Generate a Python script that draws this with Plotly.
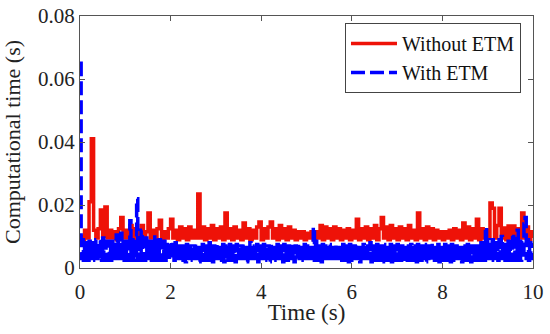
import numpy as np
import plotly.graph_objects as go

# Computational time (s) without ETM, sampled every 0.05 s from 0 to 10 s
without_etm = [
    0.0100, 0.0090, 0.0120, 0.0095, 0.0210, 0.0410, 0.0120, 0.0095, 0.0125, 0.0184,
    0.0100, 0.0194, 0.0095, 0.0120, 0.0095, 0.0115, 0.0090, 0.0125, 0.0160, 0.0095,
    0.0120, 0.0095, 0.0135, 0.0090, 0.0125, 0.0095, 0.0120, 0.0135, 0.0090, 0.0115,
    0.0175, 0.0095, 0.0120, 0.0095, 0.0125, 0.0152, 0.0090, 0.0115, 0.0095, 0.0125,
    0.0155, 0.0095, 0.0120, 0.0090, 0.0130, 0.0095, 0.0125, 0.0090, 0.0130, 0.0095,
    0.0120, 0.0095, 0.0235, 0.0095, 0.0130, 0.0090, 0.0125, 0.0095, 0.0135, 0.0090,
    0.0125, 0.0095, 0.0130, 0.0090, 0.0175, 0.0095, 0.0125, 0.0090, 0.0130, 0.0095,
    0.0120, 0.0090, 0.0143, 0.0095, 0.0125, 0.0090, 0.0120, 0.0095, 0.0130, 0.0146,
    0.0090, 0.0125, 0.0095, 0.0130, 0.0146, 0.0095, 0.0125, 0.0090, 0.0135, 0.0095,
    0.0125, 0.0090, 0.0130, 0.0095, 0.0120, 0.0090, 0.0115, 0.0095, 0.0115, 0.0090,
    0.0110, 0.0095, 0.0115, 0.0090, 0.0115, 0.0095, 0.0135, 0.0090, 0.0130, 0.0095,
    0.0125, 0.0090, 0.0130, 0.0095, 0.0125, 0.0090, 0.0120, 0.0095, 0.0125, 0.0090,
    0.0120, 0.0095, 0.0155, 0.0090, 0.0125, 0.0095, 0.0130, 0.0090, 0.0125, 0.0095,
    0.0135, 0.0090, 0.0125, 0.0160, 0.0095, 0.0130, 0.0090, 0.0135, 0.0095, 0.0125,
    0.0090, 0.0130, 0.0095, 0.0125, 0.0090, 0.0135, 0.0095, 0.0120, 0.0090, 0.0175,
    0.0095, 0.0125, 0.0090, 0.0130, 0.0095, 0.0125, 0.0090, 0.0120, 0.0095, 0.0115,
    0.0090, 0.0115, 0.0095, 0.0120, 0.0090, 0.0125, 0.0095, 0.0120, 0.0090, 0.0143,
    0.0095, 0.0130, 0.0090, 0.0125, 0.0095, 0.0155, 0.0090, 0.0125, 0.0095, 0.0120,
    0.0095, 0.0206, 0.0190, 0.0095, 0.0135, 0.0190, 0.0095, 0.0127, 0.0090, 0.0133,
    0.0095, 0.0133, 0.0090, 0.0125, 0.0095, 0.0175, 0.0095, 0.0130, 0.0090, 0.0115,
    0.0095,
]

# Computational time (s) with ETM, sampled every 0.025 s from 0 to 10 s
with_etm = [
    0.0650, 0.0030, 0.0090, 0.0025, 0.0080, 0.0030, 0.0075, 0.0025, 0.0085, 0.0030, 0.0080, 0.0025, 0.0075, 0.0030, 0.0090, 0.0025, 0.0080, 0.0030, 0.0095, 0.0025,
    0.0095, 0.0030, 0.0080, 0.0025, 0.0085, 0.0030, 0.0080, 0.0025, 0.0085, 0.0030, 0.0075, 0.0025, 0.0105, 0.0030, 0.0090, 0.0025, 0.0110, 0.0030, 0.0080, 0.0025,
    0.0085, 0.0030, 0.0080, 0.0025, 0.0150, 0.0030, 0.0085, 0.0025, 0.0090, 0.0030, 0.0220, 0.0025, 0.0080, 0.0030, 0.0120, 0.0025, 0.0085, 0.0030, 0.0095, 0.0025,
    0.0080, 0.0030, 0.0085, 0.0025, 0.0080, 0.0030, 0.0105, 0.0025, 0.0085, 0.0030, 0.0090, 0.0025, 0.0080, 0.0030, 0.0085, 0.0025, 0.0075, 0.0030, 0.0080, 0.0025,
    0.0085, 0.0030, 0.0075, 0.0025, 0.0080, 0.0030, 0.0070, 0.0025, 0.0075, 0.0030, 0.0070, 0.0025, 0.0065, 0.0020, 0.0075, 0.0030, 0.0070, 0.0025, 0.0065, 0.0030,
    0.0070, 0.0025, 0.0075, 0.0030, 0.0065, 0.0020, 0.0070, 0.0030, 0.0075, 0.0025, 0.0065, 0.0030, 0.0070, 0.0025, 0.0080, 0.0030, 0.0065, 0.0020, 0.0070, 0.0030,
    0.0075, 0.0025, 0.0065, 0.0030, 0.0070, 0.0025, 0.0075, 0.0020, 0.0065, 0.0030, 0.0070, 0.0025, 0.0075, 0.0030, 0.0065, 0.0025, 0.0070, 0.0020, 0.0075, 0.0030,
    0.0065, 0.0030, 0.0070, 0.0025, 0.0075, 0.0030, 0.0065, 0.0020, 0.0070, 0.0025, 0.0080, 0.0030, 0.0065, 0.0025, 0.0070, 0.0030, 0.0075, 0.0020, 0.0065, 0.0025,
    0.0070, 0.0030, 0.0075, 0.0025, 0.0065, 0.0030, 0.0070, 0.0020, 0.0075, 0.0025, 0.0065, 0.0030, 0.0070, 0.0025, 0.0075, 0.0030, 0.0065, 0.0025, 0.0070, 0.0020,
    0.0075, 0.0030, 0.0065, 0.0025, 0.0070, 0.0030, 0.0075, 0.0025, 0.0065, 0.0020, 0.0070, 0.0030, 0.0080, 0.0025, 0.0065, 0.0030, 0.0070, 0.0025, 0.0075, 0.0030,
    0.0070, 0.0025, 0.0075, 0.0030, 0.0065, 0.0025, 0.0130, 0.0030, 0.0085, 0.0025, 0.0070, 0.0030, 0.0065, 0.0020, 0.0075, 0.0030, 0.0070, 0.0025, 0.0065, 0.0030,
    0.0075, 0.0025, 0.0065, 0.0030, 0.0070, 0.0020, 0.0075, 0.0030, 0.0065, 0.0025, 0.0070, 0.0030, 0.0075, 0.0025, 0.0065, 0.0030, 0.0070, 0.0020, 0.0075, 0.0025,
    0.0065, 0.0030, 0.0070, 0.0025, 0.0075, 0.0030, 0.0065, 0.0020, 0.0070, 0.0025, 0.0075, 0.0030, 0.0065, 0.0025, 0.0070, 0.0030, 0.0080, 0.0020, 0.0065, 0.0030,
    0.0070, 0.0025, 0.0075, 0.0030, 0.0065, 0.0025, 0.0070, 0.0020, 0.0075, 0.0030, 0.0065, 0.0025, 0.0070, 0.0030, 0.0075, 0.0020, 0.0065, 0.0030, 0.0070, 0.0025,
    0.0075, 0.0030, 0.0065, 0.0025, 0.0070, 0.0030, 0.0075, 0.0020, 0.0065, 0.0025, 0.0070, 0.0030, 0.0075, 0.0025, 0.0065, 0.0030, 0.0070, 0.0020, 0.0075, 0.0030,
    0.0065, 0.0025, 0.0070, 0.0030, 0.0075, 0.0020, 0.0065, 0.0030, 0.0070, 0.0025, 0.0080, 0.0030, 0.0065, 0.0025, 0.0070, 0.0030, 0.0075, 0.0020, 0.0065, 0.0025,
    0.0070, 0.0030, 0.0075, 0.0025, 0.0065, 0.0030, 0.0070, 0.0020, 0.0075, 0.0025, 0.0065, 0.0030, 0.0070, 0.0025, 0.0075, 0.0030, 0.0065, 0.0020, 0.0070, 0.0030,
    0.0070, 0.0025, 0.0075, 0.0030, 0.0065, 0.0020, 0.0070, 0.0030, 0.0075, 0.0025, 0.0070, 0.0030, 0.0065, 0.0025, 0.0080, 0.0030, 0.0075, 0.0025, 0.0130, 0.0030,
    0.0090, 0.0025, 0.0075, 0.0030, 0.0090, 0.0025, 0.0080, 0.0030, 0.0075, 0.0025, 0.0090, 0.0030, 0.0100, 0.0025, 0.0080, 0.0030, 0.0075, 0.0025, 0.0085, 0.0030,
    0.0080, 0.0025, 0.0110, 0.0030, 0.0090, 0.0025, 0.0120, 0.0030, 0.0085, 0.0025, 0.0090, 0.0030, 0.0140, 0.0160, 0.0030, 0.0090, 0.0025, 0.0080, 0.0030, 0.0075,
    0.0070,
]

t_red = np.linspace(0, 10, len(without_etm))
t_blue = np.linspace(0, 10, len(with_etm))

x_ticks = [0, 2, 4, 6, 8, 10]
y_ticks = [0, 0.02, 0.04, 0.06, 0.08]
y_tick_text = ["0", "0.02", "0.04", "0.06", "0.08"]

FONT = "Liberation Serif"

fig = go.Figure()
fig.add_trace(go.Scatter(
    x=t_red, y=without_etm, mode="lines", name="Without ETM",
    line=dict(color="#ee1208", width=3.5, shape="hv"),
))
fig.add_trace(go.Scatter(
    x=t_blue, y=with_etm, mode="lines", name="With ETM",
    line=dict(color="#0000ff", width=3.5, shape="hv", dash="14px,5px"),
))

axis_common = dict(
    showgrid=False, zeroline=False, showline=True, mirror="ticks",
    linecolor="#555555", linewidth=1, ticks="inside", ticklen=5,
    tickcolor="#555555", tickfont=dict(family=FONT, size=21, color="#222"),
    automargin=False, ticklabeloverflow="allow",
)

fig.update_layout(
    width=550, height=334,
    margin=dict(l=80, r=17, t=16, b=66),
    paper_bgcolor="white", plot_bgcolor="white",
    font=dict(family=FONT, color="#222"),
    showlegend=True,
    legend=dict(
        x=0.9735, y=0.972, xanchor="right", yanchor="top",
        bgcolor="white", bordercolor="#444", borderwidth=1,
        font=dict(family=FONT, size=20, color="#111"),
        tracegroupgap=0, itemwidth=46,
    ),
    xaxis=dict(
        range=[0, 10], tickvals=x_ticks, ticklabelstandoff=5,
        title=dict(text="Time (s)", font=dict(family=FONT, size=23, color="#222"), standoff=0),
        **axis_common,
    ),
    yaxis=dict(
        range=[0, 0.08001], tickvals=y_ticks, ticktext=y_tick_text,
        title=dict(text="Computational time (s)", font=dict(family=FONT, size=22, color="#222")),
        **axis_common,
    ),
)

# Remove the page's default 8 px body margin so the figure fills the window.
fig.write_html(
    "out.html",
    config={"displayModeBar": False},
    post_script="document.body.style.margin='0';document.body.style.padding='0';",
)
